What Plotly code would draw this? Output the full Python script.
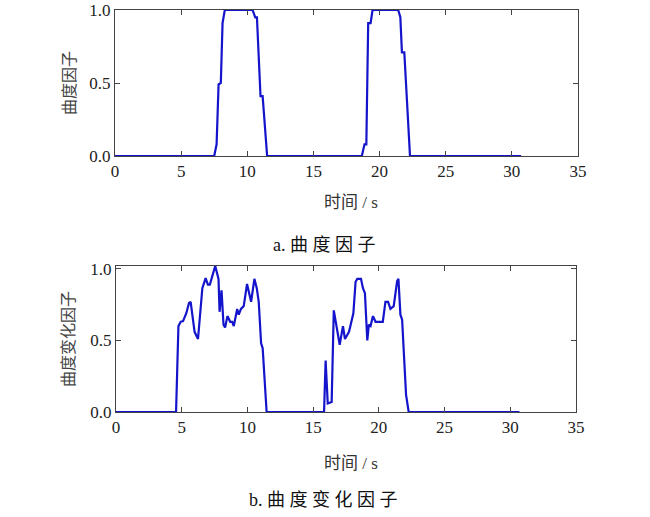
import plotly.graph_objects as go

# Top panel: curvature factor
t_top = [0, 7.5, 7.68, 7.83, 8.0, 8.13, 8.3, 10.4, 10.6, 10.73, 11.0, 11.16, 11.5,
         18.66, 18.86, 19.0, 19.14, 19.32, 19.47, 21.41, 21.57, 21.69, 21.87, 22.3, 30.7]
y_top = [0, 0, 0.08, 0.49, 0.5, 0.91, 1.0, 1.0, 0.95, 0.95, 0.41, 0.41, 0,
         0, 0.08, 0.08, 0.91, 0.91, 1.0, 1.0, 0.95, 0.71, 0.71, 0, 0]

# Bottom panel: curvature change factor
t_bot = [0, 4.57, 4.75, 4.92, 5.1, 5.35, 5.55, 5.68, 5.98, 6.24, 6.57, 6.82, 6.99, 7.14,
         7.55, 7.8, 7.88, 8.03, 8.18, 8.3, 8.48, 8.69, 8.84, 8.96, 9.22, 9.34, 9.51, 9.72,
         9.97, 10.28, 10.53, 10.71, 10.86, 11.04, 11.16, 11.46,
         15.83, 15.95, 16.11, 16.41, 16.57, 17.02, 17.27, 17.42, 17.73, 17.98, 18.06, 18.23,
         18.36, 18.64, 18.79, 18.94, 19.12, 19.24, 19.37, 19.55, 19.75, 20.3, 20.5, 20.7,
         20.88, 21.13, 21.39, 21.49, 21.64, 21.77, 22.07, 22.27, 30.7]
y_bot = [0, 0, 0.60, 0.63, 0.635, 0.69, 0.76, 0.77, 0.56, 0.51, 0.865, 0.935, 0.89, 0.89,
         1.02, 0.93, 0.70, 0.85, 0.61, 0.59, 0.67, 0.63, 0.63, 0.60, 0.72, 0.68, 0.72, 0.74,
         0.895, 0.77, 0.93, 0.865, 0.77, 0.48, 0.445, 0,
         0, 0.36, 0.06, 0.07, 0.71, 0.47, 0.60, 0.51, 0.56, 0.665, 0.69, 0.91,
         0.93, 0.93, 0.865, 0.83, 0.50, 0.61, 0.60, 0.67, 0.63, 0.63, 0.77, 0.77,
         0.72, 0.74, 0.915, 0.93, 0.68, 0.645, 0.12, 0, 0]

x_ticks = [0, 5, 10, 15, 20, 25, 30, 35]
y_ticks = [0.0, 0.5, 1.0]

W, H = 650, 517
line_color = "#1414cc"
axis_color = "#444444"
serif = "Liberation Serif"
num_font = dict(family=serif, size=17, color="#222222")
cjk_mix = "Liberation Serif, Noto Sans CJK SC"

fig = go.Figure()
fig.add_trace(go.Scatter(x=t_top, y=y_top, mode="lines",
                         line=dict(color=line_color, width=2.2), xaxis="x", yaxis="y",
                         showlegend=False))
fig.add_trace(go.Scatter(x=t_bot, y=y_bot, mode="lines",
                         line=dict(color=line_color, width=2.2), xaxis="x2", yaxis="y2",
                         showlegend=False))

axis_common = dict(showgrid=False, zeroline=False, showline=True, linecolor=axis_color,
                   linewidth=1, mirror="ticks", ticks="inside", ticklen=5,
                   tickcolor=axis_color, tickfont=num_font, automargin=False)

fig.update_layout(
    width=W, height=H, margin=dict(l=0, r=0, t=0, b=0, autoexpand=False),
    paper_bgcolor="white", plot_bgcolor="white",
    xaxis=dict(domain=[115 / W, 578 / W], range=[0, 35], tickvals=x_ticks, anchor="y",
               **axis_common),
    yaxis=dict(domain=[(H - 156) / H, (H - 10) / H], range=[0, 1.0], tickvals=y_ticks,
               tickformat=".1f", anchor="x", **axis_common),
    xaxis2=dict(domain=[116 / W, 576 / W], range=[0, 35], tickvals=x_ticks, anchor="y2",
                **axis_common),
    yaxis2=dict(domain=[(H - 412) / H, (H - 266) / H], range=[0, 1.02], tickvals=y_ticks,
                tickformat=".1f", anchor="x2", **axis_common),
)

def ann(text, x, y, size, angle=0, color="#333333", family=cjk_mix):
    fig.add_annotation(text=text, x=x / W, y=1 - y / H, xref="paper", yref="paper",
                       showarrow=False, textangle=angle, xanchor="center", yanchor="middle",
                       font=dict(family=family, size=size, color=color))

ann("曲度因子", 68, 83, 16, angle=-90, color="#444444", family="Noto Sans CJK SC")
ann("曲度变化因子", 67, 339, 16, angle=-90, color="#444444", family="Noto Sans CJK SC")
ann("时间 / s", 351, 202, 17, color="#333333")
ann("时间 / s", 351, 463, 17, color="#333333")
ann("a. 曲 度 因 子", 324, 245, 18, color="#111111")
ann("b. 曲 度 变 化 因 子", 323, 500, 18, color="#111111")

fig.write_html("out.html", config={"displayModeBar": False},
               post_script="document.body.style.margin='0';document.body.style.overflow='hidden';")
